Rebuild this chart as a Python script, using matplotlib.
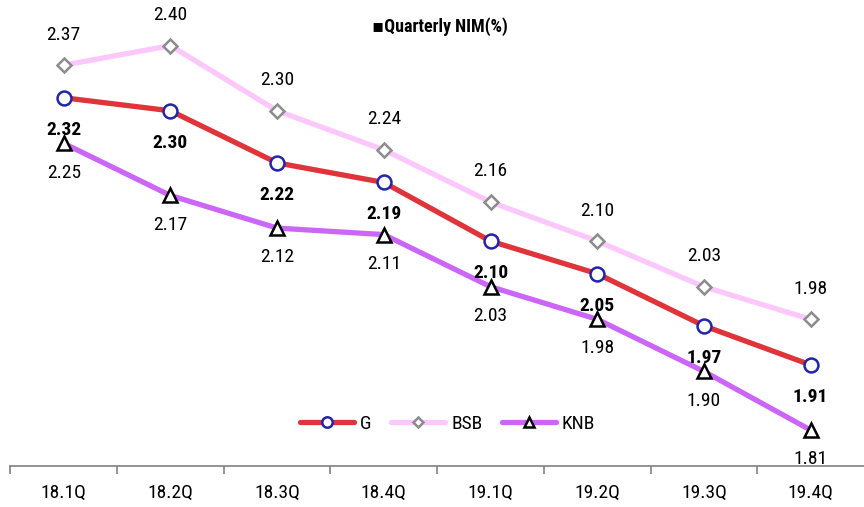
import matplotlib
matplotlib.use("Agg")
import matplotlib.pyplot as plt

# Quarterly NIM data
quarters = ["18.1Q", "18.2Q", "18.3Q", "18.4Q", "19.1Q", "19.2Q", "19.3Q", "19.4Q"]
g_vals = [2.32, 2.30, 2.22, 2.19, 2.10, 2.05, 1.97, 1.91]
bsb_vals = [2.37, 2.40, 2.30, 2.24, 2.16, 2.10, 2.03, 1.98]
knb_vals = [2.25, 2.17, 2.12, 2.11, 2.03, 1.98, 1.90, 1.81]

plt.rcParams["font.family"] = ["Roboto Condensed", "DejaVu Sans"]

fig = plt.figure(figsize=(8.64, 5.07), dpi=100)
ax = fig.add_axes([0.012, 0.081, 0.988, 0.919])

x = list(range(len(quarters)))
ax.plot(x, g_vals, color="#E0333A", lw=3.8, marker="o", ms=10, mfc="white",
        mec="#2424A8", mew=1.8, label="G", zorder=4, solid_capstyle="round")
ax.plot(x, bsb_vals, color="#FCC8FC", lw=3.8, marker="D", ms=7, mfc="white",
        mec="#8C8C8C", mew=1.8, label="BSB", zorder=3, solid_capstyle="round")
ax.plot(x, knb_vals, color="#CC66F8", lw=3.8, marker="^", ms=10, mfc="white",
        mec="black", mew=1.8, label="KNB", zorder=3, solid_capstyle="round")

for i in x:
    ax.annotate(f"{bsb_vals[i]:.2f}", (i, bsb_vals[i]), xytext=(0, 22),
                textcoords="offset points", ha="center", va="center", fontsize=14)
    ax.annotate(f"{g_vals[i]:.2f}", (i, g_vals[i]), xytext=(0, -23),
                textcoords="offset points", ha="center", va="center", fontsize=14,
                fontweight="bold", zorder=6)
    ax.annotate(f"{knb_vals[i]:.2f}", (i, knb_vals[i]), xytext=(0, -21),
                textcoords="offset points", ha="center", va="center", fontsize=14)

ax.set_xlim(-0.5, 7.5)
ax.set_ylim(1.755, 2.47)

ax.set_xticks(x)
ax.set_xticklabels(quarters, fontsize=14)
ax.tick_params(axis="x", which="major", length=0, pad=13)
ax.set_xticks([i + 0.5 for i in range(-1, 7)], minor=True)
ax.tick_params(axis="x", which="minor", length=6, width=1.2, color="#808080", direction="out")
ax.set_yticks([])
for s in ["top", "right", "left"]:
    ax.spines[s].set_visible(False)
ax.spines["bottom"].set_color("#808080")
ax.spines["bottom"].set_linewidth(1.2)

fig.text(0.43, 0.947, "\u25aaQuarterly NIM(%)", fontsize=13, fontweight="bold", ha="left", va="center")

ax.legend(loc="center", bbox_to_anchor=(0.512, 0.09), ncol=3, frameon=False,
          fontsize=14, handlelength=2.8, handletextpad=0.3, columnspacing=1.0,
          markerscale=0.75)

fig.savefig("out.png", dpi=100)
